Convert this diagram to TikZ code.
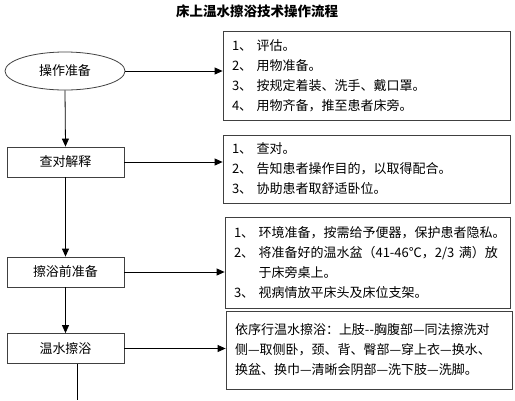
\documentclass[tikz,border=0pt]{standalone}
\usepackage{fontspec}
\setmainfont{Noto Sans CJK SC}
\usepackage{tikz}
\usetikzlibrary{arrows.meta,positioning,calc,shapes.geometric}

\begin{document}
\begin{tikzpicture}[x=1pt,y=-1pt,
        stepbox/.style={draw=black!75, line width=0.8pt, inner sep=0pt, minimum width=117pt, minimum height=30pt, font=\fontsize{13}{20}\selectfont},
        notebox/.style={draw=black!75, line width=0.8pt, inner xsep=9pt, inner ysep=0pt, align=left, font=\fontsize{13}{20}\selectfont},
        flow/.style={line width=0.8pt, -{Triangle[length=8pt,width=7pt]}}]
    \useasboundingbox (0,0) rectangle (515,400);
    \node[font=\bfseries\fontsize{13.5}{15}\selectfont] (title) at (257,11) {床上温水擦浴技术操作流程};
    % left column
    \node[draw=black!75, line width=0.8pt, ellipse, minimum width=120pt, minimum height=38pt, inner sep=0pt, font=\fontsize{13}{20}\selectfont] (prep) at (65,71) {操作准备};
    \node[stepbox] (check) at (65.5,162) {查对解释};
    \node[stepbox] (before) at (65.5,272) {擦浴前准备};
    \node[stepbox] (bath) at (65.5,348.5) {温水擦浴};
    \coordinate (end) at (77,400);
    % right column
    \node[notebox, minimum width=287pt, minimum height=89pt, text width=269pt] (n1) at (366.5,75.5)
        {1、\ 评估。\\2、\ 用物准备。\\3、\ 按规定着装、洗手、戴口罩。\\4、\ 用物齐备，推至患者床旁。};
    \node[notebox, minimum width=287pt, minimum height=68pt, text width=269pt] (n2) at (366.5,169)
        {1、\ 查对。\\2、\ 告知患者操作目的，以取得配合。\\3、\ 协助患者取舒适卧位。};
    \node[notebox, minimum width=285pt, minimum height=91pt, text width=267pt] (n3) at (367.5,262.5)
        {1、\ 环境准备，按需给予便器，保护患者隐私。\\2、\ 将准备好的温水盆（41-46℃，2/3 满）放\\\phantom{2、\ }于床旁桌上。\\3、\ 视病情放平床头及床位支架。};
    \node[notebox, minimum width=286pt, minimum height=78pt, text width=268pt] (n4) at (369,350)
        {依序行温水擦浴：上肢-{}-胸腹部—同法擦洗对\\侧—取侧卧，颈、背、臀部—穿上衣—换水、\\换盆、换巾—清晰会阴部—洗下肢—洗脚。};
    % connectors
    \draw[flow] (prep.east) -- (prep.east -| n1.west);
    \draw[flow] (check.east) -- (check.east -| n2.west);
    \draw[flow] (before.east) -- (before.east -| n3.west);
    \draw[flow] (bath.east) -- (bath.east -| n4.west);
    \draw[flow] (prep.south) -- (check.north);
    \draw[flow] (check.south) -- (before.north);
    \draw[flow] (before.south) -- (bath.north);
    \draw[line width=0.8pt] (bath.south -| end) -- (end);
\end{tikzpicture}
\end{document}
